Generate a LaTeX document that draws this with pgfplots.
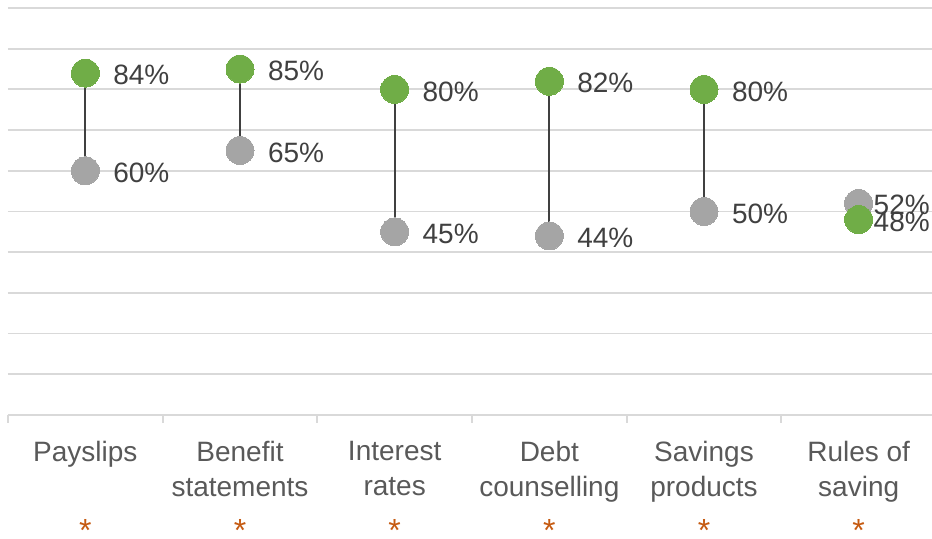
\documentclass[border=0pt]{standalone}
\usepackage{pgfplots}
\pgfplotsset{compat=1.18}
\usepackage{pgfplotstable}
\usepackage{fontspec}
\setmainfont{Liberation Sans}
\definecolor{cgreen}{HTML}{70AD47}
\definecolor{cgray}{HTML}{A5A5A5}
\definecolor{cgrid}{HTML}{D9D9D9}
\definecolor{clabel}{HTML}{404040}
\definecolor{ctick}{HTML}{595959}
\definecolor{cstar}{HTML}{C55A11}

\pgfplotstableread{
x green gray
0 84 60
1 85 65
2 80 45
3 82 44
4 80 50
5 48 52
}\datatable

\begin{document}
\begin{tikzpicture}
\begin{axis}[
  scale only axis, width=462pt, height=203.5pt,
  xmin=-0.5, xmax=5.474, ymin=0, ymax=100,
  clip=false,
  axis x line*=bottom, axis y line*=left,
  y axis line style={draw=none},
  x axis line style={draw=cgrid, line width=0.9pt, -},
  ytick={0,10,...,100}, yticklabels={}, ymajorgrids,
  y tick style={draw=none},
  major grid style={draw=cgrid, line width=0.9pt},
  xtick={0,...,5},
  xticklabels={Payslips,{Benefit\\statements},{Interest\\rates},{Debt\\counselling},{Savings\\products},{Rules of\\saving}},
  xticklabel style={align=center, font=\fontsize{14}{17.5}\selectfont, text=ctick, yshift=-5.5pt},
  x tick style={draw=none},
  tick align=outside,
  extra x ticks={-0.5,0.5,1.5,2.5,3.5,4.5},
  extra x tick labels={},
  extra x tick style={x tick style={draw=cgrid, line width=0.9pt}, major tick length=4pt, grid=none},
  /pgf/number format/assume math mode=true,
  every node near coord/.append style={anchor=west, xshift=14pt, yshift=-1pt, inner sep=0pt, text=clabel, font=\fontsize{14}{17}\selectfont},
  gm/.style={only marks, mark=*, mark size=7pt, draw=#1, fill=#1, mark options={solid, draw=#1, fill=#1, line width=0pt},
    point meta=y, nodes near coords={\pgfmathprintnumber{\pgfplotspointmeta}\%}},
]
\addplot[draw=none, mark=none, forget plot,
  error bars/.cd, y dir=plus, y explicit,
  error bar style={draw=clabel, line width=1pt}, error mark=none]
  table[x=x, y=gray, y error expr=\thisrow{green}-\thisrow{gray}] {\datatable};
\addplot[gm=cgray, restrict x to domain=0:4.5] table[x=x, y=gray] {\datatable};
\addplot[gm=cgray, restrict x to domain=4.5:5.5, every node near coord/.append style={xshift=-6.5pt}] table[x=x, y=gray] {\datatable};
\addplot[gm=cgreen, restrict x to domain=0:4.5] table[x=x, y=green] {\datatable};
\addplot[gm=cgreen, restrict x to domain=4.5:5.5, every node near coord/.append style={xshift=-6.5pt}] table[x=x, y=green] {\datatable};
\pgfplotsinvokeforeach{0,...,5}{
  \node[text=cstar, font=\fontsize{16}{16}\selectfont, anchor=base, yshift=-63.5pt] at (axis cs:#1,0) {*};
}
\end{axis}
\pgfresetboundingbox
\path (-4pt,-62pt) rectangle (462pt,207.5pt);
\end{tikzpicture}
\end{document}
